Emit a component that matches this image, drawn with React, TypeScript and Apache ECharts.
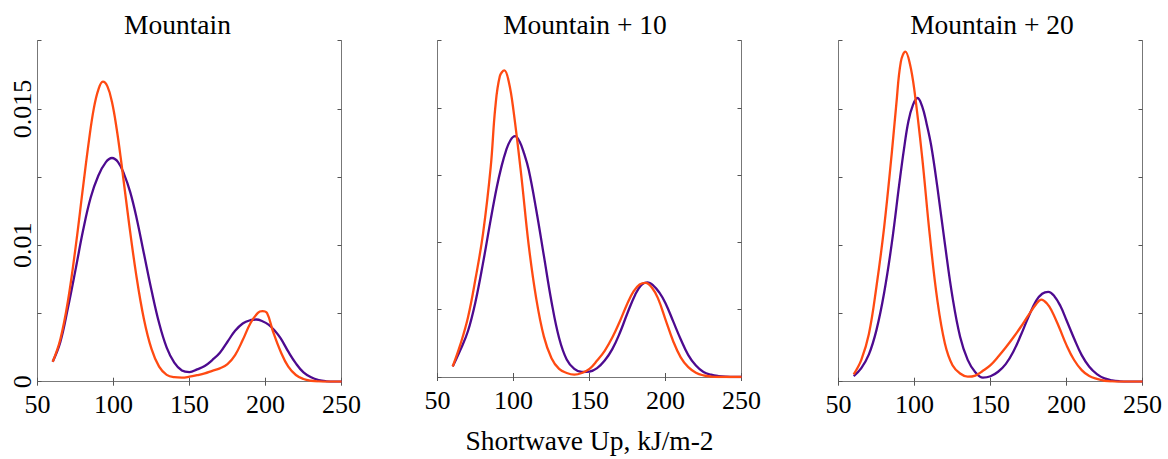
import { useEffect, useRef } from "react";
import * as echarts from "echarts";

const panelTitles = ["Mountain", "Mountain + 10", "Mountain + 20"];
const xAxisName = "Shortwave Up, kJ/m-2";
const yTickLabels = ["0", "", "0.01", "", "0.015", ""];

// Mountain
const mountainPurple: [number, number][] = [
  [60, 0.00146], [65, 0.0029], [70, 0.0054], [75, 0.0082], [80, 0.0111], [85, 0.0135],
  [90, 0.0151], [95, 0.0161], [99, 0.0164], [103, 0.0161], [107, 0.0152], [111, 0.0139],
  [115, 0.0121], [120, 0.0094], [125, 0.0067], [130, 0.0043], [135, 0.0025], [140, 0.0014],
  [145, 0.00082], [150, 0.0007], [155, 0.0009], [160, 0.00115], [165, 0.00159], [170, 0.00212],
  [175, 0.00293], [180, 0.00373], [185, 0.00427], [190, 0.00451], [194, 0.00456], [198, 0.00443],
  [202, 0.00418], [206, 0.00375], [210, 0.00317], [215, 0.0022], [220, 0.00134], [225, 0.00068],
  [230, 0.00032], [235, 0.00012], [240, 0.00003], [245, 0], [250, 0],
];
const mountainOrange: [number, number][] = [
  [60, 0.00146], [65, 0.0031], [70, 0.0059], [75, 0.0098], [80, 0.0143], [84, 0.0178],
  [87, 0.02], [90, 0.0214], [93, 0.022], [96, 0.02165], [99, 0.0205], [102, 0.0186],
  [105, 0.0162], [110, 0.0118], [115, 0.0078], [120, 0.0046], [125, 0.0024], [130, 0.0011],
  [135, 0.0005], [140, 0.00033], [145, 0.0003], [150, 0.00037], [155, 0.00048], [160, 0.00061],
  [165, 0.0008], [170, 0.00098], [175, 0.00129], [180, 0.00195], [185, 0.00305], [190, 0.00427],
  [195, 0.00505], [198, 0.00517], [201, 0.00503], [205, 0.00366], [210, 0.0022], [215, 0.0011],
  [220, 0.00049], [225, 0.0002], [230, 0.00007], [235, 0.00002], [240, 0], [245, 0], [250, 0],
];

// Mountain + 10
const plus10Purple: [number, number][] = [
  [60, 0.00078], [65, 0.002], [70, 0.0034], [75, 0.0056], [80, 0.0085], [85, 0.0117],
  [89, 0.0141], [92, 0.0156], [95, 0.0168], [98, 0.0176], [101, 0.0179], [104, 0.0175],
  [107, 0.0166], [110, 0.0154], [115, 0.0124], [120, 0.009], [125, 0.0056], [130, 0.0029],
  [135, 0.0013], [140, 0.0006], [145, 0.00037], [150, 0.0004], [155, 0.00066], [160, 0.00122],
  [165, 0.00207], [170, 0.00329], [175, 0.00476], [180, 0.0061], [184, 0.00682], [188, 0.00703],
  [192, 0.00680], [196, 0.00627], [200, 0.00549], [205, 0.00415], [210, 0.00281], [215, 0.00163],
  [220, 0.00085], [225, 0.00037], [230, 0.00017], [235, 0.00007], [240, 0.00002], [245, 0], [250, 0],
];
const plus10Orange: [number, number][] = [
  [60, 0.00078], [65, 0.0024], [70, 0.0044], [75, 0.0073], [80, 0.0107], [85, 0.0156],
  [88, 0.02], [91, 0.02235], [94, 0.0228], [97, 0.0219], [100, 0.0198], [105, 0.0151],
  [110, 0.0098], [115, 0.0058], [120, 0.003], [125, 0.0014], [130, 0.0006], [135, 0.0003],
  [140, 0.00018], [145, 0.0003], [150, 0.0006], [155, 0.00122], [160, 0.00195], [165, 0.00293],
  [170, 0.00415], [175, 0.00549], [179, 0.00637], [183, 0.00688], [187, 0.007], [191, 0.00665],
  [195, 0.00586], [200, 0.00427], [205, 0.00268], [210, 0.00146], [215, 0.00073], [220, 0.00032],
  [225, 0.00012], [230, 0.00003], [235, 0], [240, 0], [245, 0], [250, 0],
];

// Mountain + 20
const plus20Purple: [number, number][] = [
  [60, 0.00041], [65, 0.001], [70, 0.002], [75, 0.0038], [80, 0.0065], [85, 0.0101],
  [90, 0.0145], [93, 0.017], [96, 0.0191], [99, 0.0203], [102, 0.0208], [105, 0.0202],
  [108, 0.0189], [111, 0.0173], [115, 0.0143], [120, 0.0101], [125, 0.0062], [130, 0.0033],
  [135, 0.0016], [140, 0.0007], [145, 0.0003], [150, 0.0004], [155, 0.00073], [160, 0.00129],
  [165, 0.0022], [170, 0.00342], [175, 0.00476], [180, 0.00593], [184, 0.00645], [188, 0.00659],
  [192, 0.00627], [196, 0.00555], [200, 0.00451], [205, 0.00317], [210, 0.00195], [215, 0.0011],
  [220, 0.00056], [225, 0.00024], [230, 0.0001], [235, 0.00003], [240, 0], [245, 0], [250, 0],
];
const plus20Orange: [number, number][] = [
  [60, 0.00054], [65, 0.0016], [70, 0.0035], [75, 0.007], [80, 0.0113], [85, 0.0167],
  [88, 0.0203], [91, 0.02345], [94, 0.0242], [97, 0.0233], [100, 0.0213], [105, 0.0165],
  [110, 0.0108], [115, 0.006], [120, 0.0028], [125, 0.0012], [130, 0.0006], [135, 0.00037],
  [140, 0.00045], [145, 0.0008], [150, 0.00122], [155, 0.00183], [160, 0.00251], [165, 0.00324],
  [170, 0.00403], [175, 0.00488], [180, 0.00568], [183.5, 0.00602], [187, 0.00575], [190, 0.00525],
  [195, 0.00403], [200, 0.00268], [205, 0.00159], [210, 0.00085], [215, 0.00041], [220, 0.0002],
  [225, 0.00007], [230, 0.00002], [235, 0], [240, 0], [245, 0], [250, 0],
];

const purpleSeries = [mountainPurple, plus10Purple, plus20Purple];
const orangeSeries = [mountainOrange, plus10Orange, plus20Orange];

const ORANGE = "#ff4a12";
const PURPLE = "#4d0a8f";
const FRAME = "#777777";
const FONT = "'Liberation Serif', 'Times New Roman', serif";

const gridLefts = [37.5, 437.5, 838.5];
const titleCenters = [177.5, 585, 992];
const GRID_TOP = 40.7;
const GRID_W = 304;
const GRID_H = 341;

export default function App() {
  const ref = useRef<HTMLDivElement>(null);

  useEffect(() => {
    if (!ref.current) return;
    const chart = echarts.init(ref.current, null, { renderer: "svg" });

    const grids: any[] = [];
    const xAxes: any[] = [];
    const yAxes: any[] = [];
    const series: any[] = [];
    const graphics: any[] = [];

    const tickStyle = { show: true, inside: true, length: 4, lineStyle: { color: "#555", width: 1 } };
    const lineStyle = { show: true, lineStyle: { color: FRAME, width: 1 } };

    for (let i = 0; i < 3; i++) {
      grids.push({ left: gridLefts[i], top: GRID_TOP, width: GRID_W, height: GRID_H, containLabel: false });
      xAxes.push({
        type: "value", gridIndex: i, position: "bottom", min: 50, max: 250, interval: 50,
        axisLine: lineStyle, axisTick: tickStyle, splitLine: { show: false },
        axisLabel: { show: true, fontFamily: FONT, fontSize: 26, color: "#000", margin: 10 },
        name: i === 1 ? xAxisName : "", nameLocation: "middle", nameGap: 49,
        nameTextStyle: { fontFamily: FONT, fontSize: 27.5, color: "#000" },
      });
      xAxes.push({
        type: "value", gridIndex: i, position: "top", min: 50, max: 250, interval: 50,
        axisLine: lineStyle, axisTick: tickStyle, splitLine: { show: false },
        axisLabel: { show: false },
      });
      yAxes.push({
        type: "value", gridIndex: i, position: "left", min: 0, max: 0.025, interval: 0.005,
        axisLine: lineStyle, axisTick: tickStyle, splitLine: { show: false },
        axisLabel: {
          show: i === 0, rotate: 90, fontFamily: FONT, fontSize: 26, color: "#000", margin: 2,
          formatter: (v: number) => yTickLabels[Math.round(v / 0.005)] ?? "",
        },
      });
      yAxes.push({
        type: "value", gridIndex: i, position: "right", min: 0, max: 0.025, interval: 0.005,
        axisLine: lineStyle, axisTick: tickStyle, splitLine: { show: false },
        axisLabel: { show: false },
      });
      series.push({
        type: "line", name: "purple", xAxisIndex: i * 2, yAxisIndex: i * 2,
        data: purpleSeries[i], smooth: 0.4, showSymbol: false, symbol: "none",
        lineStyle: { color: PURPLE, width: 2.3 }, z: 2,
      });
      series.push({
        type: "line", name: "orange", xAxisIndex: i * 2, yAxisIndex: i * 2,
        data: orangeSeries[i], smooth: 0.4, showSymbol: false, symbol: "none",
        lineStyle: { color: ORANGE, width: 2.3 }, z: 3,
      });
      graphics.push({
        type: "text", x: titleCenters[i], y: 24,
        style: { text: panelTitles[i], fontFamily: FONT, fontSize: 27.5, fill: "#000", align: "center", verticalAlign: "middle" },
      });
    }

    chart.setOption({
      animation: false,
      backgroundColor: "#ffffff",
      grid: grids,
      xAxis: xAxes,
      yAxis: yAxes,
      series,
      graphic: graphics,
    });

    return () => chart.dispose();
  }, []);

  return (
    <div
      ref={ref}
      style={{ position: "fixed", left: 0, top: 0, width: 1168, height: 459, background: "#fff" }}
    />
  );
}
